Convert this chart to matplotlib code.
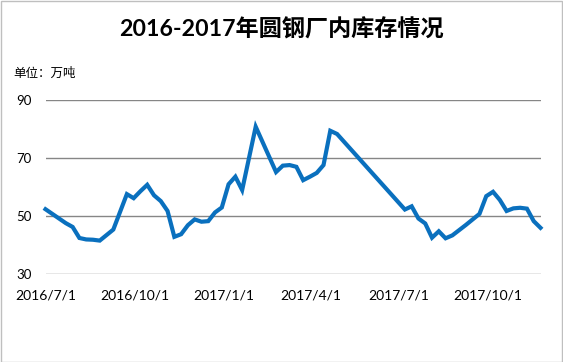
import matplotlib
matplotlib.use("Agg")
import matplotlib.pyplot as plt
import matplotlib.dates as mdates
import numpy as np
import pandas as pd
from matplotlib.patches import Rectangle

plt.rcParams['font.family'] = ['Lato', 'Noto Sans CJK SC', 'DejaVu Sans']

title = "2016-2017年圆钢厂内库存情况"
unit_label = "单位：万吨"

# weekly observations starting 2016-07-01; None = no data that week (line connects across)
start_date = "2016-07-01"
weekly_values = [
    52.4, 50.8, 49.2, 47.6, 46.3, 42.5, 42.0, 41.9, 41.6, 43.5,   # wk 0-9
    45.4, 51.5, 57.6, 56.2, 58.6, 60.8, 57.2, 55.2, 51.8, 42.9,   # wk 10-19
    43.8, 46.9, 48.9, 48.1, 48.3, 51.3, 53.0, 61.0, 63.6, 59.0,   # wk 20-29
    69.9, 80.8, 75.6, 70.4, 65.2, 67.4, 67.6, 67.0, 62.4, 63.6,   # wk 30-39
    64.9, 67.6, 79.4, 78.3, None, None, None, None, None, None,   # wk 40-49
    None, None, None, 52.3, 53.4, 49.2, 47.5, 42.6, 44.8, 42.4,   # wk 50-59
    43.4, 45.2, 47.0, 48.9, 50.8, 56.9, 58.4, 55.6, 51.8, 52.7,   # wk 60-69
    52.9, 52.6, 48.3, 46.0,                                       # wk 70-73
]
tick_dates = ["2016-07-01", "2016-10-01", "2017-01-01", "2017-04-01", "2017-07-01", "2017-10-01"]
tick_labels = ["2016/7/1", "2016/10/1", "2017/1/1", "2017/4/1", "2017/7/1", "2017/10/1"]
y_ticks = [30, 50, 70, 90]

all_dates = pd.date_range(start_date, periods=len(weekly_values), freq="7D")
mask = [v is not None for v in weekly_values]
plot_dates = all_dates[mask]
plot_values = [v for v in weekly_values if v is not None]

W, H = 563, 362
fig = plt.figure(figsize=(W / 100, H / 100), dpi=100)
fig.patches.append(Rectangle((0.5 / W, 0.5 / H), 1 - 1.5 / W, 1 - 1.5 / H, transform=fig.transFigure,
                             fill=False, edgecolor='#BFBFBF', linewidth=1.0))

ax = fig.add_axes([45.5 / W, 1 - 274.3 / H, (540.5 - 45.5) / W, (274.3 - 100) / H])
ax.plot(mdates.date2num(plot_dates), plot_values, color='#0A70BE', linewidth=3.0,
        solid_joinstyle='miter', zorder=3, clip_on=False)

ax.set_xlim(mdates.date2num(all_dates[0]), mdates.date2num(all_dates[-1]))
ax.set_ylim(30, 90)
ax.set_yticks(y_ticks)
ax.set_xticks(mdates.datestr2num(tick_dates))
ax.set_xticklabels(tick_labels)
ax.grid(axis='y', color='#868686', linewidth=1.0)
ax.grid(axis='x', visible=False)
for s in ax.spines.values():
    s.set_visible(False)
ax.tick_params(axis='both', length=0, labelsize=10, colors='black')
ax.tick_params(axis='x', pad=11)
ax.tick_params(axis='y', labelsize=9.5, pad=10)
ax.set_axisbelow(True)

fig.text(0.5, 1 - 29.5 / H, title, ha='center', va='center', fontsize=16.7, fontweight='bold')
fig.text(13 / W, 1 - 73 / H, unit_label, ha='left', va='center', fontsize=9)

fig.savefig("out.png", dpi=100)
